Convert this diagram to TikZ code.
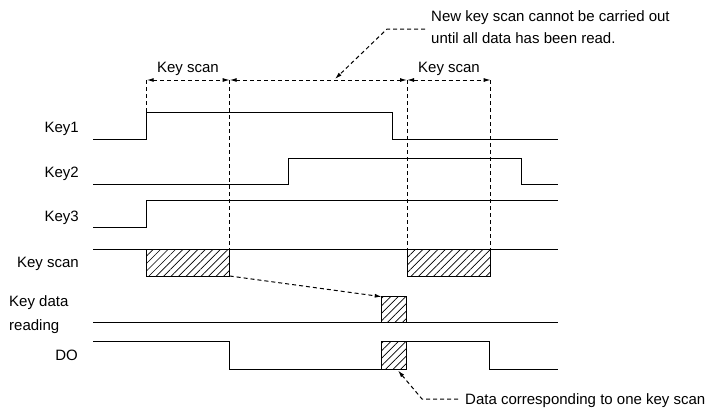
\documentclass[tikz,border=0pt]{standalone}
\usepackage{fontspec}
\setmainfont{Liberation Sans}
\usetikzlibrary{arrows.meta,patterns.meta}
\begin{document}
\begin{tikzpicture}[x=1pt,y=-1pt,
  sig/.style={line width=1pt},
  guide/.style={line width=1pt,dash pattern=on 4pt off 3pt},
  dim/.style={guide,{Latex[length=7pt,width=4pt]}-{Latex[length=7pt,width=4pt]}},
  lead/.style={guide,-{Latex[length=7pt,width=4pt]}},
  hatch/.style={sig,pattern={Lines[angle=45,distance=5.3pt,line width=0.7pt]}},
  lbl/.style={font=\fontsize{15}{18}\selectfont,inner sep=0pt}
]
\useasboundingbox (0,0) rectangle (708,410);

% x positions
\def\xa{93}\def\xb{146.7}\def\xc{229.7}\def\xd{407}\def\xe{490.7}\def\xz{558}

% labels
\node[lbl,anchor=base east] (lk1) at (79,132) {Key1};
\node[lbl,anchor=base east] (lk2) at (79,177) {Key2};
\node[lbl,anchor=base east] (lk3) at (79,221) {Key3};
\node[lbl,anchor=base east] (lks) at (79,267) {Key scan};
\node[lbl,anchor=base west] (lkd) at (9,306) {Key data};
\node[lbl,anchor=base west] (lrd) at (9,330) {reading};
\node[lbl,anchor=base east] (ldo) at (78,360) {DO};
\node[lbl,anchor=base] (ts1) at (188,72) {Key scan};
\node[lbl,anchor=base] (ts2) at (449,72) {Key scan};
\node[lbl,anchor=base west] (nt1) at (431,21) {New key scan cannot be carried out};
\node[lbl,anchor=base west] (nt2) at (431,43) {until all data has been read.};
\node[lbl,anchor=base west] (dt) at (465,404) {Data corresponding to one key scan};

% Key1
\draw[sig] (\xa,139) -- (\xb,139) -- (\xb,112) -- (392,112) -- (392,139) -- (\xz,139);
% Key2
\draw[sig] (\xa,184) -- (288,184) -- (288,158) -- (521,158) -- (521,184) -- (\xz,184);
% Key3
\draw[sig] (\xa,227) -- (\xb,227) -- (\xb,200) -- (\xz,200);
% Key scan
\draw[sig] (\xa,249.7) -- (\xz,249.7);
\draw[hatch] (\xb,249.7) rectangle (\xc,276);
\draw[hatch] (\xd,249.7) rectangle (\xe,276);
\coordinate (ks1) at (\xc,276);
% Key data reading
\draw[sig] (\xa,322) -- (\xz,322);
\draw[hatch] (381.7,296.7) rectangle (406,322);
\coordinate (kd) at (381.7,296.7);
% DO
\draw[sig] (\xa,341.7) -- (\xc,341.7) -- (\xc,369) -- (381.7,369);
\draw[hatch] (381.7,341.7) rectangle (406,369);
\draw[sig] (406,341.7) -- (489.3,341.7) -- (489.3,369) -- (\xz,369);
\coordinate (dob) at (398,370.5);

% guides
\coordinate (g1) at (\xb,80); \coordinate (g2) at (\xc,80);
\coordinate (g3) at (\xd,80); \coordinate (g4) at (\xe,80);
\draw[guide] (g1) -- (\xb,112);
\draw[guide] (g2) -- (\xc,249.7);
\draw[guide] (g3) -- (\xd,249.7);
\draw[guide] (g4) -- (\xe,249.7);
\draw[dim] (g1) -- (g2);
\draw[dim] (g2) -- (g3);
\draw[dim] (g3) -- (g4);

% callouts
\coordinate (c1) at (425,29); \coordinate (c2) at (387,29); \coordinate (c3) at (335,79);
\draw[lead] (c1) -- (c2) -- (c3);
\draw[lead] (ks1) -- (kd);
\coordinate (d1) at (458,399); \coordinate (d2) at (422,399);
\draw[lead] (d1) -- (d2) -- (dob);
\end{tikzpicture}
\end{document}
